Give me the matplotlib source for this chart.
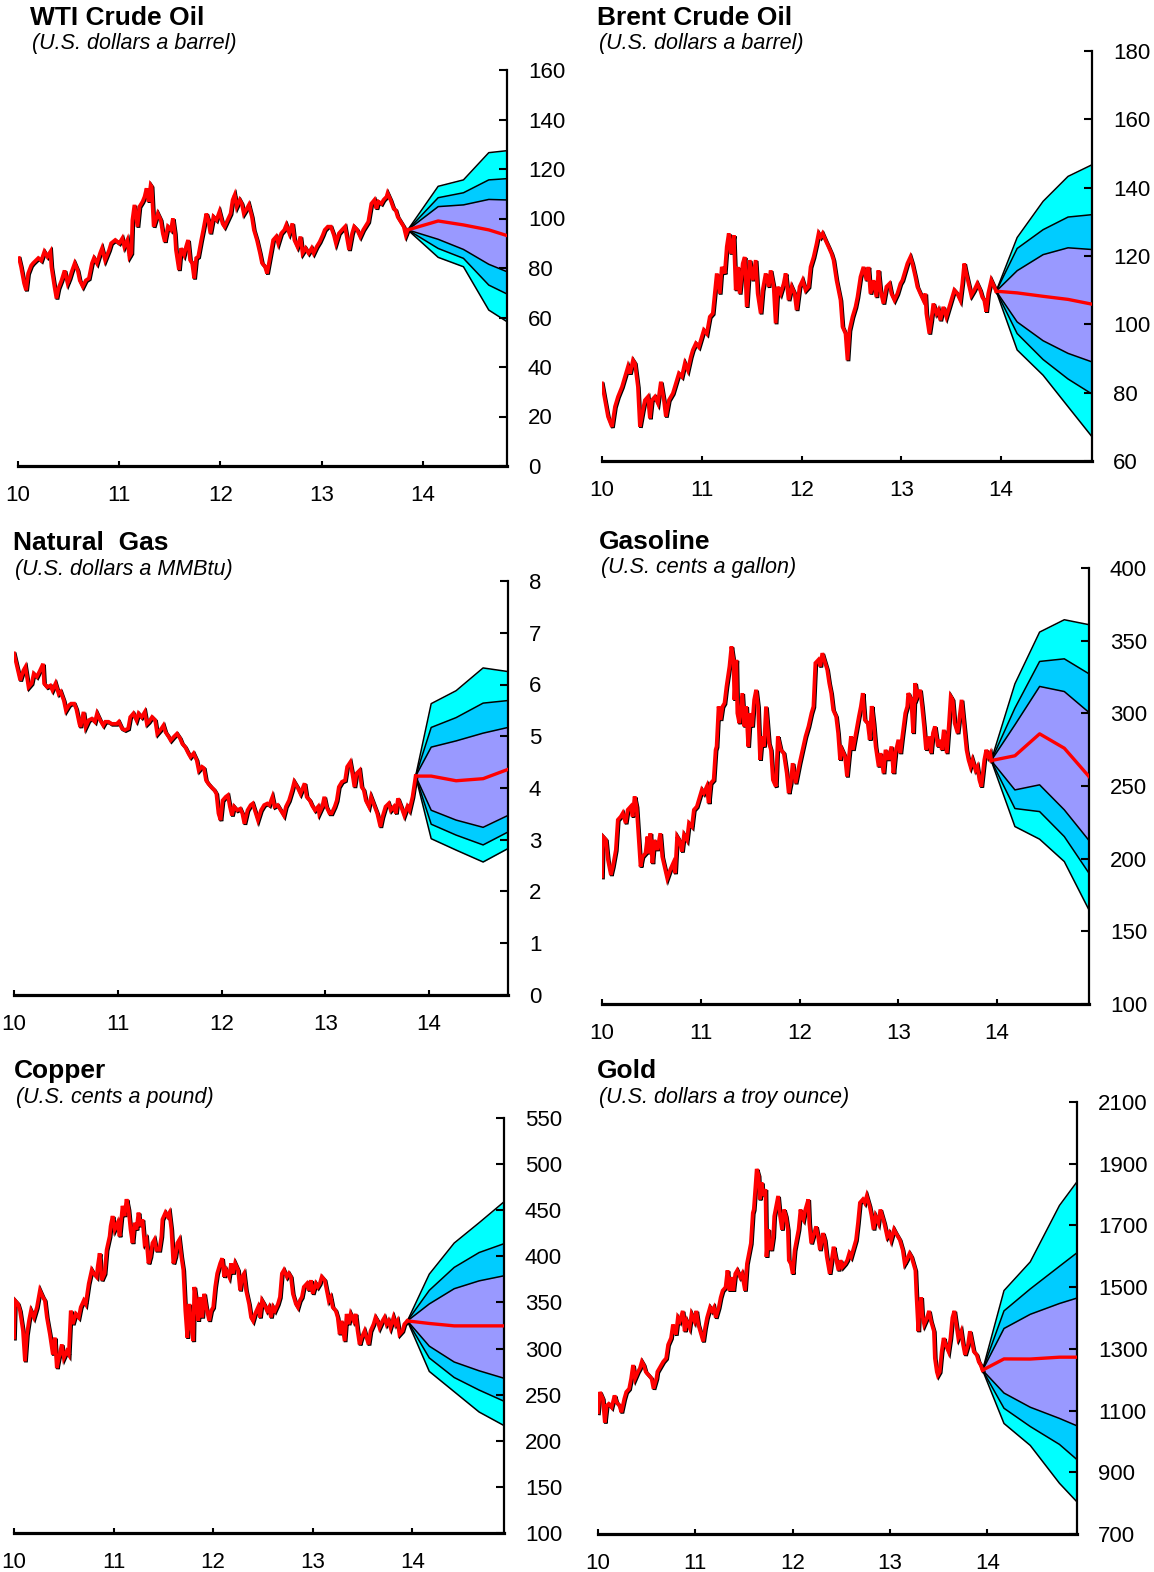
import matplotlib
matplotlib.use("Agg")
import matplotlib.pyplot as plt
import matplotlib.patheffects as pe

plt.rcParams['font.family'] = ['Liberation Sans', 'DejaVu Sans']

# === Data (years as 10 = 2010 ...) ===
YEAR_TICKS = [10, 11, 12, 13, 14]

# WTI crude oil, US$ a barrel
wti_dates = [10.01,10.03,10.06,10.08,10.10,10.13,10.15,10.20,10.23,10.26,10.29,10.32,10.33,10.36,10.38,10.40,10.43,10.46,10.49,10.51,
             10.53,10.56,10.59,10.61,10.64,10.67,10.70,10.73,10.75,10.78,10.81,10.83,10.86,10.90,10.92,10.96,10.98,11.00,11.03,11.05,
             11.08,11.10,11.12,11.13,11.15,11.18,11.20,11.23,11.25,11.27,11.29,11.31,11.32,11.34,11.35,11.38,11.41,11.43,11.45,11.48,
             11.51,11.53,11.55,11.56,11.59,11.61,11.64,11.66,11.68,11.70,11.72,11.74,11.76,11.78,11.81,11.83,11.86,11.88,11.90,11.93,
             11.96,11.99,12.02,12.04,12.07,12.10,12.12,12.14,12.16,12.19,12.21,12.23,12.26,12.28,12.31,12.33,12.36,12.39,12.41,12.44,
             12.46,12.49,12.52,12.55,12.57,12.60,12.63,12.65,12.68,12.71,12.73,12.76,12.79,12.81,12.84,12.87,12.90,12.92,12.95,12.98,
             13.01,13.03,13.06,13.09,13.12,13.14,13.17,13.20,13.23,13.25,13.27,13.30,13.32,13.35,13.38,13.41,13.43,13.46,13.49,13.52,
             13.54,13.56,13.59,13.61,13.64,13.65,13.68,13.71,13.73,13.75,13.78,13.81,13.83,13.85]
wti_price = [84,80.5,73.8,71,77.8,81,82,84,83,86.6,84.6,86.6,80.5,72.5,67.7,71.8,75,79,73.8,75.8,
             78.5,81.9,79,75,72.5,75,75.8,81.9,84,81.9,85.9,88,83.2,87.3,90,91.3,90.6,90,92,88.6,
             91.3,84.6,86,99.4,105.5,96.7,104.8,106.8,108.8,112.2,106.8,113.5,112.9,96.7,98,102,99.4,94,90.6,96.7,
             95.4,100,94,87.3,79.2,88,85.3,88.6,91.3,83.2,82,75.8,84,84.6,91.3,95.4,102,99.4,94,100.7,
             99.4,102.8,98,96.7,99.4,102,107.5,109.5,104.8,107.5,106,102,104,105.5,100.7,95.4,91.3,86,82,80.5,
             77.8,84.6,91.3,92.7,90,94,95.4,97.4,94,98,91.3,88.6,92.7,86,88,86,88,86,88.6,90.6,
             93.3,95.4,96.7,96.7,93.3,90,94,95.4,96.7,92,87.3,94,96.7,95.4,92.7,95.4,96.7,98.7,106,107.5,
             104,106.8,106,107.5,108.8,110.2,107.5,104,103.4,100.7,98.7,96.7,93.3,95.4]
wti_fan_dates = [13.85, 14.15, 14.40, 14.65, 14.83]
wti_outer_hi = [95.4, 113.0, 115.6, 126.6, 127.4]
wti_mid_hi = [95.4, 108.4, 110.4, 115.6, 116.1]
wti_inner_hi = [95.4, 104.8, 105.5, 107.7, 107.5]
wti_median = [95.4, 99.0, 97.4, 95.4, 93.1]
wti_inner_lo = [95.4, 91.6, 87.5, 81.5, 78.5]
wti_mid_lo = [95.4, 87.9, 83.9, 73.1, 69.5]
wti_outer_lo = [95.4, 84.3, 80.5, 63.0, 58.3]

# Brent crude oil, US$ a barrel
brent_dates = [10.00,10.03,10.06,10.10,10.13,10.16,10.20,10.23,10.26,10.28,10.31,10.33,10.36,10.38,10.41,10.43,10.46,10.48,10.50,10.53,
               10.56,10.59,10.62,10.64,10.67,10.71,10.75,10.77,10.80,10.83,10.86,10.89,10.91,10.94,10.97,11.00,11.02,11.05,11.08,11.11,
               11.13,11.15,11.18,11.20,11.23,11.25,11.27,11.29,11.32,11.34,11.36,11.38,11.41,11.43,11.45,11.48,11.51,11.54,11.56,11.59,
               11.61,11.64,11.67,11.69,11.72,11.74,11.76,11.79,11.82,11.84,11.87,11.90,11.93,11.95,11.98,12.01,12.04,12.07,12.09,12.12,
               12.15,12.17,12.19,12.21,12.24,12.27,12.30,12.32,12.35,12.37,12.39,12.41,12.44,12.46,12.48,12.51,12.54,12.56,12.59,12.62,
               12.65,12.67,12.69,12.72,12.75,12.77,12.79,12.82,12.85,12.88,12.90,12.93,12.96,12.99,13.01,13.04,13.06,13.09,13.11,13.14,
               13.16,13.19,13.22,13.24,13.25,13.28,13.30,13.32,13.35,13.37,13.39,13.42,13.45,13.48,13.51,13.53,13.56,13.59,13.61,13.63,
               13.65,13.68,13.70,13.73,13.76,13.79,13.81,13.83,13.85,13.87,13.90,13.93,13.95]
brent_price = [82.7,77.8,73,70,75.9,78.8,81.7,84.7,87.6,85.6,89.5,88.6,81.7,70,74.9,77.8,78.8,72.5,77.8,78.8,
               76.9,83.2,77.8,73,77.8,79.8,83.7,85.6,84.7,88.6,86.6,90.5,92.5,94.4,93.4,96.4,98.3,97.3,102.2,103.2,
               109,114.9,109,116.8,114.9,122.7,126.6,120.7,126.1,110,116.8,109,117.8,119.7,105.1,118.8,112.9,118.8,109,103.2,
               110,114.9,111,115.8,111,100.3,111,109,111.9,114.9,107.1,111,109,104.2,111,112.9,110,111,116.8,119.7,
               123.6,126.6,125.6,126.6,124.6,122.7,120.7,118.8,112.9,110,107.1,99.3,97.3,89.5,98.3,102.2,105.1,108,113.9,116.8,
               112.9,116.8,109,112.9,108,115.8,110,106.1,111,111.9,109,107.1,109,111.9,112.9,115.8,117.8,119.7,117.8,113.9,
               111,109,107.1,109,103.2,97.3,101.2,106.1,103.2,104.2,101.2,105.1,102.2,105.1,108,110,109,107.1,111.9,117.8,
               114.9,111,108.5,110,111.9,110,108,107.1,103.7,109,112.9,111,109.7]
brent_fan_dates = [13.95, 14.16, 14.42, 14.67, 14.91]
brent_outer_hi = [109.7, 125.4, 136.0, 143.3, 146.7]
brent_mid_hi = [109.7, 122.2, 127.7, 131.4, 132.1]
brent_inner_hi = [109.7, 115.7, 120.4, 122.4, 121.9]
brent_median = [109.7, 109.2, 108.2, 107.3, 105.9]
brent_inner_lo = [109.7, 100.7, 95.2, 91.5, 89.0]
brent_mid_lo = [109.7, 97.3, 89.7, 84.0, 79.6]
brent_outer_lo = [109.7, 92.5, 85.1, 75.9, 67.1]

# Natural gas, US$ a MMBtu
ng_dates = [10.00,10.03,10.06,10.09,10.11,10.14,10.17,10.19,10.22,10.25,10.28,10.29,10.32,10.35,10.37,10.40,10.43,10.45,10.48,10.50,
            10.53,10.55,10.58,10.60,10.63,10.64,10.67,10.69,10.72,10.75,10.78,10.80,10.83,10.86,10.88,10.91,10.94,10.96,10.99,11.01,
            11.04,11.07,11.10,11.12,11.15,11.18,11.20,11.23,11.26,11.28,11.30,11.33,11.36,11.38,11.41,11.44,11.46,11.49,11.51,11.54,
            11.57,11.60,11.62,11.65,11.68,11.70,11.73,11.76,11.78,11.81,11.83,11.85,11.87,11.90,11.93,11.95,11.97,11.99,12.01,12.04,
            12.06,12.08,12.10,12.12,12.15,12.18,12.20,12.22,12.25,12.28,12.30,12.33,12.35,12.38,12.41,12.44,12.46,12.49,12.51,12.54,
            12.57,12.60,12.62,12.65,12.68,12.70,12.73,12.76,12.78,12.80,12.82,12.85,12.87,12.90,12.93,12.94,12.97,12.99,13.01,13.04,
            13.06,13.09,13.11,13.13,13.16,13.19,13.21,13.24,13.26,13.28,13.30,13.33,13.35,13.37,13.39,13.42,13.44,13.47,13.50,13.53,
            13.55,13.58,13.61,13.63,13.66,13.68,13.70,13.73,13.76,13.79,13.81,13.84,13.86,13.87]
ng_price = [6.6,6.34,6.08,6.27,6.34,5.95,6.02,6.21,6.15,6.27,6.40,6.02,5.95,5.98,5.89,6.02,5.82,5.86,5.69,5.50,
            5.60,5.63,5.63,5.53,5.24,5.18,5.47,5.18,5.31,5.34,5.28,5.44,5.31,5.21,5.28,5.28,5.24,5.24,5.24,5.28,
            5.15,5.12,5.15,5.37,5.44,5.31,5.44,5.37,5.47,5.24,5.28,5.37,5.31,5.05,5.12,5.21,5.08,4.99,4.92,4.99,
            5.05,4.96,4.86,4.79,4.67,4.60,4.67,4.54,4.34,4.41,4.38,4.15,4.09,4.02,3.96,3.89,3.51,3.38,3.76,3.83,
            3.86,3.64,3.47,3.64,3.57,3.60,3.51,3.31,3.57,3.67,3.70,3.51,3.38,3.57,3.67,3.70,3.67,3.83,3.64,3.67,
            3.57,3.47,3.64,3.76,3.96,4.12,4.02,3.89,3.99,4.09,3.83,3.76,3.67,3.57,3.64,3.51,3.64,3.83,3.64,3.51,
            3.51,3.64,3.76,4.02,4.12,4.15,4.41,4.50,4.28,4.02,4.28,4.34,4.02,3.96,3.76,3.64,3.83,3.67,3.51,3.25,
            3.44,3.64,3.70,3.57,3.64,3.51,3.80,3.64,3.47,3.64,3.57,3.83,4.09,4.23]
ng_fan_dates = [13.87, 14.02, 14.26, 14.52, 14.76]
ng_outer_hi = [4.23, 5.63, 5.88, 6.32, 6.25]
ng_mid_hi = [4.23, 5.17, 5.36, 5.64, 5.69]
ng_inner_hi = [4.23, 4.79, 4.91, 5.06, 5.17]
ng_median = [4.23, 4.23, 4.14, 4.18, 4.36]
ng_inner_lo = [4.23, 3.57, 3.38, 3.24, 3.47]
ng_mid_lo = [4.23, 3.30, 3.09, 2.90, 3.15]
ng_outer_lo = [4.23, 3.02, 2.80, 2.57, 2.83]

# Gasoline, US cents a gallon
gsl_dates = [10.00,10.01,10.04,10.06,10.09,10.11,10.14,10.16,10.19,10.21,10.24,10.26,10.29,10.31,10.33,10.35,10.37,10.39,10.41,10.44,
             10.46,10.47,10.49,10.51,10.53,10.56,10.59,10.61,10.64,10.66,10.69,10.72,10.74,10.76,10.78,10.81,10.83,10.86,10.88,10.91,
             10.93,10.96,10.99,11.01,11.03,11.06,11.08,11.10,11.13,11.15,11.16,11.18,11.20,11.22,11.24,11.26,11.28,11.29,11.31,11.33,
             11.34,11.36,11.37,11.39,11.42,11.44,11.46,11.48,11.50,11.52,11.54,11.56,11.58,11.60,11.62,11.64,11.66,11.69,11.71,11.73,
             11.76,11.78,11.81,11.84,11.87,11.89,11.91,11.93,11.96,11.98,12.00,12.03,12.06,12.09,12.12,12.14,12.16,12.19,12.21,12.23,
             12.25,12.28,12.30,12.32,12.34,12.37,12.39,12.41,12.43,12.46,12.48,12.50,12.52,12.54,12.57,12.60,12.62,12.64,12.66,12.69,
             12.71,12.73,12.75,12.77,12.80,12.82,12.85,12.87,12.90,12.93,12.95,12.97,13.00,13.02,13.04,13.07,13.09,13.10,13.13,13.15,
             13.17,13.19,13.22,13.24,13.26,13.28,13.31,13.33,13.35,13.37,13.40,13.42,13.44,13.46,13.49,13.51,13.53,13.55,13.57,13.60,
             13.62,13.64,13.66,13.69,13.71,13.73,13.75,13.78,13.80,13.82,13.84,13.87,13.89,13.91,13.93,13.94]
gsl_price = [187.7,215.2,212.9,199.2,188.8,194.6,206,226.7,229,231.3,224.4,233.6,235.9,229,242.8,235.9,215.2,194.6,201.4,203.7,
             215.2,203.7,217.5,196.9,212.9,206,217.5,201.4,192.3,186.5,192.3,196.9,190,215.2,212.9,204.9,216.4,212.9,224.4,222.1,
             233.6,235.9,242.8,247.3,245.1,249.6,238.2,251.9,254.2,274.9,277.2,304.7,295.5,304.7,307,318.5,327.7,332.3,346,336.8,
             309.3,336.8,300.1,293.2,313.9,291,304.7,277.2,300.1,291,309.3,316.2,304.7,268,284.1,277.2,304.7,279.5,274.9,254.2,
             249.6,284.1,274.9,272.6,258.8,245.1,251.9,265.7,251.9,258.8,265.7,274.9,284.1,291,300.1,304.7,334.6,336.8,332.3,341.4,
             336.8,330,320.8,313.9,302.4,297.8,286.4,268,274.9,270.3,256.5,270.3,284.1,274.9,286.4,297.8,304.7,313.9,295.5,293.2,
             281.8,305,293.2,277.2,263.4,272.6,258.8,274.9,268,277.2,258.8,272.6,281.8,272.6,284.1,300.1,304.7,313.9,309.3,286.4,
             320.8,311.6,316.2,304.7,291,274.9,284.1,272.6,286.4,291,277.2,281.8,274.9,288.7,272.6,291,311.6,309.3,293.2,286.4,
             297.8,309.3,295.5,274.9,268,263.4,268,261.1,263.4,254.2,249.6,268,274.9,270.3,272.6,267.5]
gsl_fan_dates = [13.94, 14.18, 14.43, 14.68, 14.93]
gsl_outer_hi = [267.5, 320.3, 355.9, 364.4, 361.0]
gsl_mid_hi = [267.5, 303.6, 335.7, 337.5, 327.2]
gsl_inner_hi = [267.5, 292.1, 318.5, 315.0, 300.6]
gsl_median = [267.5, 270.8, 285.9, 276.0, 256.5]
gsl_inner_lo = [267.5, 247.3, 250.8, 233.6, 212.5]
gsl_mid_lo = [267.5, 234.5, 232.4, 215.2, 190.0]
gsl_outer_lo = [267.5, 222.1, 213.4, 198.0, 164.7]

# Copper, US cents a pound
cu_dates = [10.00,10.01,10.04,10.06,10.09,10.11,10.13,10.15,10.17,10.20,10.23,10.26,10.29,10.31,10.33,10.36,10.39,10.41,10.43,10.45,
            10.48,10.50,10.53,10.55,10.57,10.59,10.62,10.65,10.67,10.70,10.72,10.75,10.78,10.80,10.83,10.84,10.86,10.88,10.91,10.93,
            10.96,10.97,10.99,11.01,11.04,11.06,11.09,11.11,11.13,11.15,11.17,11.19,11.21,11.23,11.25,11.27,11.29,11.31,11.33,11.35,
            11.37,11.39,11.41,11.43,11.46,11.48,11.49,11.52,11.54,11.56,11.58,11.60,11.62,11.64,11.66,11.68,11.70,11.72,11.74,11.76,
            11.78,11.80,11.81,11.83,11.85,11.87,11.89,11.91,11.93,11.96,11.98,12.00,12.02,12.04,12.07,12.09,12.11,12.13,12.16,12.18,
            12.20,12.22,12.25,12.27,12.29,12.31,12.33,12.36,12.38,12.40,12.42,12.45,12.47,12.49,12.51,12.54,12.56,12.58,12.60,12.62,
            12.65,12.67,12.69,12.71,12.74,12.76,12.78,12.80,12.83,12.85,12.87,12.89,12.91,12.94,12.96,12.98,13.00,13.03,13.05,13.07,
            13.09,13.12,13.14,13.16,13.18,13.20,13.23,13.25,13.27,13.29,13.32,13.34,13.36,13.38,13.41,13.43,13.45,13.47,13.49,13.52,
            13.54,13.56,13.58,13.61,13.63,13.65,13.67,13.70,13.72,13.74,13.76,13.78,13.81,13.83,13.85,13.87,13.90,13.92,13.95]
cu_price = [311.8,352.1,348.4,341.1,319.1,286.1,315.5,330.1,341.1,333.8,344.8,363.1,355.8,352.1,333.8,315.5,293.5,311.8,278.8,289.8,
            304.5,289.8,297.1,293.5,341.1,326.5,337.5,333.8,344.8,352.1,348.4,370.4,385.1,381.4,377.8,388.8,403.4,374.1,381.4,407.1,
            421.7,432.7,443.7,429.1,436.4,421.7,454.7,443.7,462,451,429.1,414.4,436.4,429.1,447.4,432.7,440,414.4,418.1,392.4,
            399.7,414.4,418.1,407.1,407.1,421.7,440,447.4,443.7,447.4,429.1,392.4,399.7,414.4,418.1,399.7,385.1,341.1,311.8,348.4,
            322.8,308.1,366.8,352.1,330.1,355.8,333.8,359.4,344.8,330.1,341.1,344.8,366.8,381.4,392.4,397.9,377.8,385.1,377.8,392.4,
            381.4,392.4,385.1,363.1,377.8,381.4,363.1,348.4,333.8,330.1,337.5,344.8,333.8,352.1,348.4,341.1,344.8,333.8,344.8,341.1,
            348.4,355.8,381.4,385.1,377.8,381.4,377.8,359.4,348.4,344.8,352.1,355.8,366.8,370.4,363.1,374.1,359.4,370.4,366.8,370.4,
            377.8,374.1,363.1,352.1,355.8,344.8,341.1,333.8,315.5,330.1,308.1,337.5,326.5,337.5,330.1,337.5,319.1,304.5,311.8,319.1,
            311.8,304.5,319.1,326.5,333.8,330.1,322.8,330.1,333.8,326.5,330.1,322.8,333.8,326.5,330.1,315.5,319.1,326.5,330.1]
cu_fan_dates = [13.95, 14.17, 14.42, 14.67, 14.92]
cu_outer_hi = [330.0, 380.7, 414.4, 436.4, 459.1]
cu_mid_hi = [330.0, 363.1, 388.0, 404.1, 413.7]
cu_inner_hi = [330.0, 348.4, 364.9, 373.4, 378.9]
cu_median = [330.0, 327.2, 324.6, 324.6, 324.6]
cu_inner_lo = [330.0, 302.6, 285.4, 275.9, 267.8]
cu_mid_lo = [330.0, 289.8, 268.6, 255.0, 242.9]
cu_outer_lo = [330.0, 275.2, 253.2, 231.2, 216.5]

# Gold, US$ a troy ounce
au_dates = [10.00,10.02,10.05,10.07,10.09,10.11,10.14,10.17,10.19,10.22,10.24,10.27,10.29,10.32,10.34,10.36,10.38,10.41,10.43,10.45,
            10.47,10.49,10.52,10.55,10.57,10.60,10.61,10.65,10.67,10.70,10.72,10.75,10.77,10.80,10.82,10.84,10.87,10.89,10.91,10.94,
            10.96,10.99,11.01,11.03,11.06,11.08,11.10,11.12,11.15,11.17,11.19,11.21,11.24,11.26,11.28,11.31,11.33,11.35,11.37,11.39,
            11.41,11.43,11.46,11.48,11.51,11.53,11.55,11.57,11.59,11.60,11.62,11.63,11.65,11.66,11.68,11.70,11.72,11.73,11.75,11.76,
            11.78,11.80,11.81,11.83,11.85,11.87,11.89,11.91,11.93,11.95,11.96,11.98,12.00,12.02,12.04,12.06,12.08,12.09,12.11,12.13,
            12.16,12.17,12.19,12.22,12.24,12.26,12.28,12.31,12.33,12.35,12.38,12.40,12.42,12.44,12.47,12.49,12.51,12.54,12.56,12.58,
            12.60,12.63,12.65,12.67,12.69,12.72,12.74,12.76,12.79,12.81,12.83,12.85,12.88,12.90,12.92,12.94,12.97,12.99,13.01,13.04,
            13.06,13.08,13.10,13.13,13.15,13.17,13.20,13.22,13.24,13.26,13.27,13.29,13.30,13.32,13.33,13.35,13.38,13.40,13.42,13.45,
            13.46,13.48,13.49,13.51,13.53,13.55,13.57,13.60,13.62,13.64,13.66,13.68,13.70,13.73,13.75,13.77,13.80,13.82,13.84,13.86,
            13.89,13.91,13.93,13.95]
au_price = [1094.3,1160.1,1138.2,1061.5,1116.3,1121.7,1110.8,1149.1,1127.2,1116.3,1094.3,1138.2,1160.1,1171,1203.9,1247.7,1203.9,1225.8,1236.7,1258.6,
            1247.7,1225.8,1214.8,1203.9,1171,1203.9,1225.8,1247.7,1258.6,1269.6,1313.4,1335.3,1379.1,1346.2,1401,1390.1,1423,1357.2,1390.1,1368.2,
            1412,1390.1,1423,1379.1,1346.2,1324.3,1368.2,1401,1433.9,1423,1433.9,1401,1433.9,1466.8,1488.7,1499.7,1554.4,1488.7,1532.5,1488.7,
            1543.5,1554.4,1532.5,1543.5,1488.7,1576.3,1609.2,1642,1740.6,1751.6,1839.2,1883.1,1861.2,1784.4,1839.2,1795.4,1817.3,1598.2,1686.9,1642,
            1620.1,1664,1729.7,1762.5,1795.4,1729.7,1686.9,1751.6,1729.7,1686.9,1587.3,1576.3,1543.5,1620.1,1653,1686.9,1751.6,1729.7,1718.7,1751.6,
            1784.4,1707.8,1642,1675,1696.8,1664,1620.1,1675,1653,1598.2,1543.5,1587.3,1631,1598.2,1554.4,1587.3,1565.4,1576.3,1587.3,1609.2,
            1598.2,1631,1653,1707.8,1773.5,1784.4,1773.5,1795.4,1762.5,1729.7,1686.9,1729.7,1707.8,1751.6,1729.7,1707.8,1664,1675,1653,1686.9,
            1675,1664,1653,1620.1,1576.3,1587.3,1609.2,1598.2,1576.3,1554.4,1477.7,1357.2,1423,1466.8,1412,1379.1,1401,1423,1390.1,1357.2,
            1269.6,1225.8,1214.8,1225.8,1291.5,1335.3,1313.4,1291.5,1335.3,1401,1423,1379.1,1335.3,1357.2,1313.4,1280.6,1313.4,1357.2,1324.3,1291.5,
            1280.6,1258.6,1247.7,1231]
au_fan_dates = [13.95, 14.17, 14.44, 14.74, 14.92]
au_outer_hi = [1231, 1488.7, 1581.8, 1764.7, 1841.4]
au_mid_hi = [1231, 1423.0, 1494.2, 1567.6, 1611.4]
au_inner_hi = [1231, 1366.0, 1412.0, 1447.0, 1464.6]
au_median = [1231, 1267.4, 1267.0, 1273.0, 1273.0]
au_inner_lo = [1231, 1156.8, 1110.8, 1074.6, 1050.5]
au_mid_lo = [1231, 1107.5, 1048.3, 990.3, 941.0]
au_outer_lo = [1231, 1058.2, 987.0, 864.3, 804.0]

# === Figure ===
W, H = 1154, 1572
fig = plt.figure(figsize=(W / 100, H / 100), dpi=100)

CYAN = '#00FFFF'
SKY = '#00CCFF'
LAVENDER = '#9999FF'
RED = '#FF0000'


def add_px_axes(left, right, top, bottom):
    return fig.add_axes([left / W, 1 - bottom / H, (right - left) / W, (bottom - top) / H])


def draw_panel(box, title, subtitle, title_xy, dates, price, fan_dates,
               outer, mid, inner, median, yticks, xmax):
    ax = add_px_axes(*box)
    ax.fill_between(fan_dates, outer[0], outer[1], color=CYAN, lw=0, zorder=1)
    ax.fill_between(fan_dates, mid[0], mid[1], color=SKY, lw=0, zorder=1)
    ax.fill_between(fan_dates, inner[0], inner[1], color=LAVENDER, lw=0, zorder=1)
    for band in (outer, mid, inner):
        for edge in band:
            ax.plot(fan_dates, edge, color='black', lw=1.1, zorder=2)
    ax.plot(dates, price, color=RED, lw=2.7, zorder=3, solid_joinstyle='miter',
            path_effects=[pe.SimpleLineShadow(offset=(0.7, -0.7), shadow_color='black', alpha=1, rho=1),
                          pe.Normal()])
    ax.plot(fan_dates, median, color=RED, lw=2.4, zorder=3)

    ax.set_xlim(10, xmax)
    ax.set_ylim(yticks[0], yticks[-1])
    ax.set_xticks(YEAR_TICKS)
    ax.set_xticklabels([str(y) for y in YEAR_TICKS])
    ax.set_yticks(yticks)
    ax.yaxis.tick_right()
    for s in ('top', 'left'):
        ax.spines[s].set_visible(False)
    ax.spines['bottom'].set_linewidth(2.3)
    ax.spines['right'].set_linewidth(1.6)
    ax.tick_params(axis='y', direction='in', length=6, width=1.5, pad=15, labelsize=16)
    ax.tick_params(axis='x', direction='in', length=3.5, width=1.5, pad=14, labelsize=16)
    ax.set_facecolor('none')

    tx, ty = title_xy
    fig.text(tx / W, 1 - ty / H, title, fontsize=19, fontweight='bold', va='center', ha='left')
    fig.text((tx + 2) / W, 1 - (ty + 26) / H, subtitle, fontsize=15.5, style='italic', va='center', ha='left')
    return ax


draw_panel((18, 507, 70, 466), 'WTI Crude Oil', '(U.S. dollars a barrel)', (30, 18),
           wti_dates, wti_price, wti_fan_dates,
           (wti_outer_lo, wti_outer_hi), (wti_mid_lo, wti_mid_hi), (wti_inner_lo, wti_inner_hi),
           wti_median, list(range(0, 161, 20)), 14.83)

draw_panel((602, 1092, 51, 461), 'Brent Crude Oil', '(U.S. dollars a barrel)', (597, 18),
           brent_dates, brent_price, brent_fan_dates,
           (brent_outer_lo, brent_outer_hi), (brent_mid_lo, brent_mid_hi), (brent_inner_lo, brent_inner_hi),
           brent_median, list(range(60, 181, 20)), 14.91)

draw_panel((14, 508, 581, 995), 'Natural  Gas', '(U.S. dollars a MMBtu)', (13, 543),
           ng_dates, ng_price, ng_fan_dates,
           (ng_outer_lo, ng_outer_hi), (ng_mid_lo, ng_mid_hi), (ng_inner_lo, ng_inner_hi),
           ng_median, list(range(0, 9)), 14.76)

draw_panel((602, 1089, 568, 1004), 'Gasoline', '(U.S. cents a gallon)', (599, 542),
           gsl_dates, gsl_price, gsl_fan_dates,
           (gsl_outer_lo, gsl_outer_hi), (gsl_mid_lo, gsl_mid_hi), (gsl_inner_lo, gsl_inner_hi),
           gsl_median, list(range(100, 401, 50)), 14.93)

draw_panel((14, 504, 1118, 1533), 'Copper', '(U.S. cents a pound)', (14, 1071),
           cu_dates, cu_price, cu_fan_dates,
           (cu_outer_lo, cu_outer_hi), (cu_mid_lo, cu_mid_hi), (cu_inner_lo, cu_inner_hi),
           cu_median, list(range(100, 551, 50)), 14.92)

draw_panel((598, 1077, 1102, 1534), 'Gold', '(U.S. dollars a troy ounce)', (597, 1071),
           au_dates, au_price, au_fan_dates,
           (au_outer_lo, au_outer_hi), (au_mid_lo, au_mid_hi), (au_inner_lo, au_inner_hi),
           au_median, list(range(700, 2101, 200)), 14.92)

fig.savefig('out.png', dpi=100)
